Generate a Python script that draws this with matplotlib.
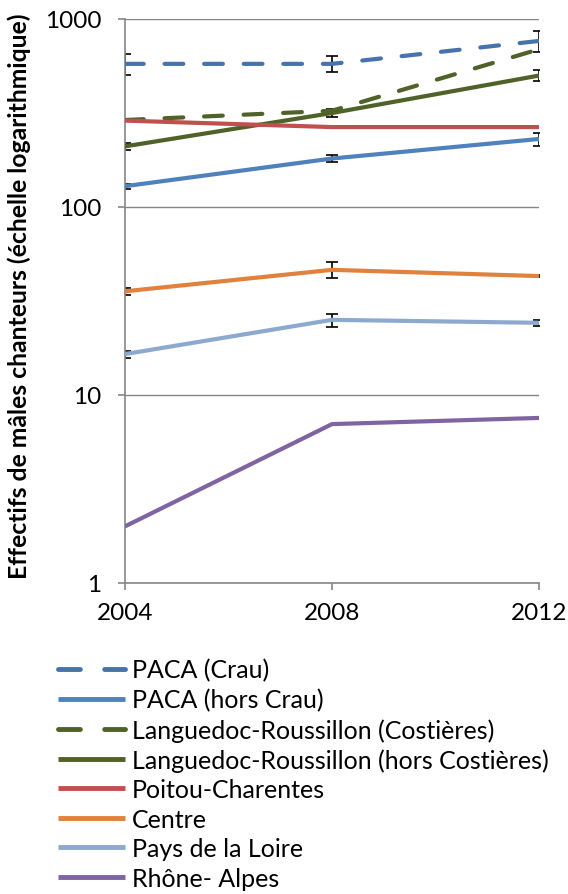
import numpy as np
import matplotlib
matplotlib.use("Agg")
from matplotlib import pyplot as plt

plt.rcParams['font.family'] = ['Lato', 'DejaVu Sans']

years = [2004, 2008, 2012]

# region names, as in the legend
labels = [
    "PACA (Crau)",
    "PACA (hors Crau)",
    "Languedoc-Roussillon (Costières)",
    "Languedoc-Roussillon (hors Costières)",
    "Poitou-Charentes",
    "Centre",
    "Pays de la Loire",
    "Rhône- Alpes",
]

paca_crau = [577, 577, 764]
paca_crau_err = [75, 57, 100]
paca_hors = [129, 181, 230]
paca_hors_err = [4, 7, 18]
lr_costieres = [290, 325, 690]
lr_hors = [210, 316, 500]
lr_hors_err = [8, 14, 33]
poitou = [288, 266, 266]
centre = [35.6, 46.3, 42.9]
centre_err = [1.5, 4.5, 0.6]
loire = [16.5, 25.1, 24.2]
loire_err = [0.7, 2.0, 1.0]
rhone = [2.0, 7.0, 7.55]

series = [paca_crau, paca_hors, lr_costieres, lr_hors, poitou, centre, loire, rhone]
errors = [paca_crau_err, paca_hors_err, None, lr_hors_err, None, centre_err, loire_err, None]
colors = ['#4673AE', '#4F81BD', '#4F6228', '#4F6228', '#C0504D', '#E0823D', '#8EA9CF', '#8064A2']
dashed = [True, False, True, False, False, False, False, False]

fig = plt.figure(figsize=(5.68, 8.95), dpi=100)
ax = fig.add_axes([0.220, 0.3475, 0.729, 0.6302])

for vals, err, col, dsh, lab in zip(series, errors, colors, dashed, labels):
    if dsh:
        ax.plot(years, vals, color=col, lw=3, dashes=(4.5, 5), dash_capstyle='round',
                solid_capstyle='round', label=lab, zorder=3)
    else:
        ax.plot(years, vals, color=col, lw=3, solid_capstyle='butt', label=lab, zorder=3)
    if err is not None:
        ax.errorbar(years, vals, yerr=err, fmt='none', ecolor='black', elinewidth=1.2,
                    capsize=4.3, capthick=1.2, zorder=2)

ax.set_yscale('log')
ax.set_ylim(1, 1000)
ax.set_xlim(2004, 2012)
ax.set_yticks([1, 10, 100, 1000])
ax.set_yticklabels(['1', '10', '100', '1000'])
ax.yaxis.set_minor_locator(matplotlib.ticker.NullLocator())
ax.set_xticks(years)
ax.set_xticklabels([str(y) for y in years])

ax.grid(axis='y', color='#868686', lw=1)
ax.set_axisbelow(True)
for s in ['top', 'right']:
    ax.spines[s].set_visible(False)
for s in ['left', 'bottom']:
    ax.spines[s].set_color('#868686')
    ax.spines[s].set_linewidth(1.2)
ax.tick_params(axis='both', colors='#868686', labelcolor='black', labelsize=17.5,
               length=5, width=1.2, direction='out')
ax.tick_params(axis='x', pad=9)
ax.tick_params(axis='y', pad=12)

ax.set_ylabel("Effectifs de mâles chanteurs (échelle logarithmique)",
              fontsize=17.8, fontweight='bold')
ax.yaxis.set_label_coords(-0.226, 0.51)

leg = fig.legend(loc='upper left', bbox_to_anchor=(0.085, 0.2745), frameon=False,
                 fontsize=18, handlelength=2.65, handletextpad=0.28, labelspacing=0.26,
                 borderaxespad=0)
for h in leg.get_lines():
    h.set_linewidth(3.5)

fig.savefig("out.png", dpi=100)
